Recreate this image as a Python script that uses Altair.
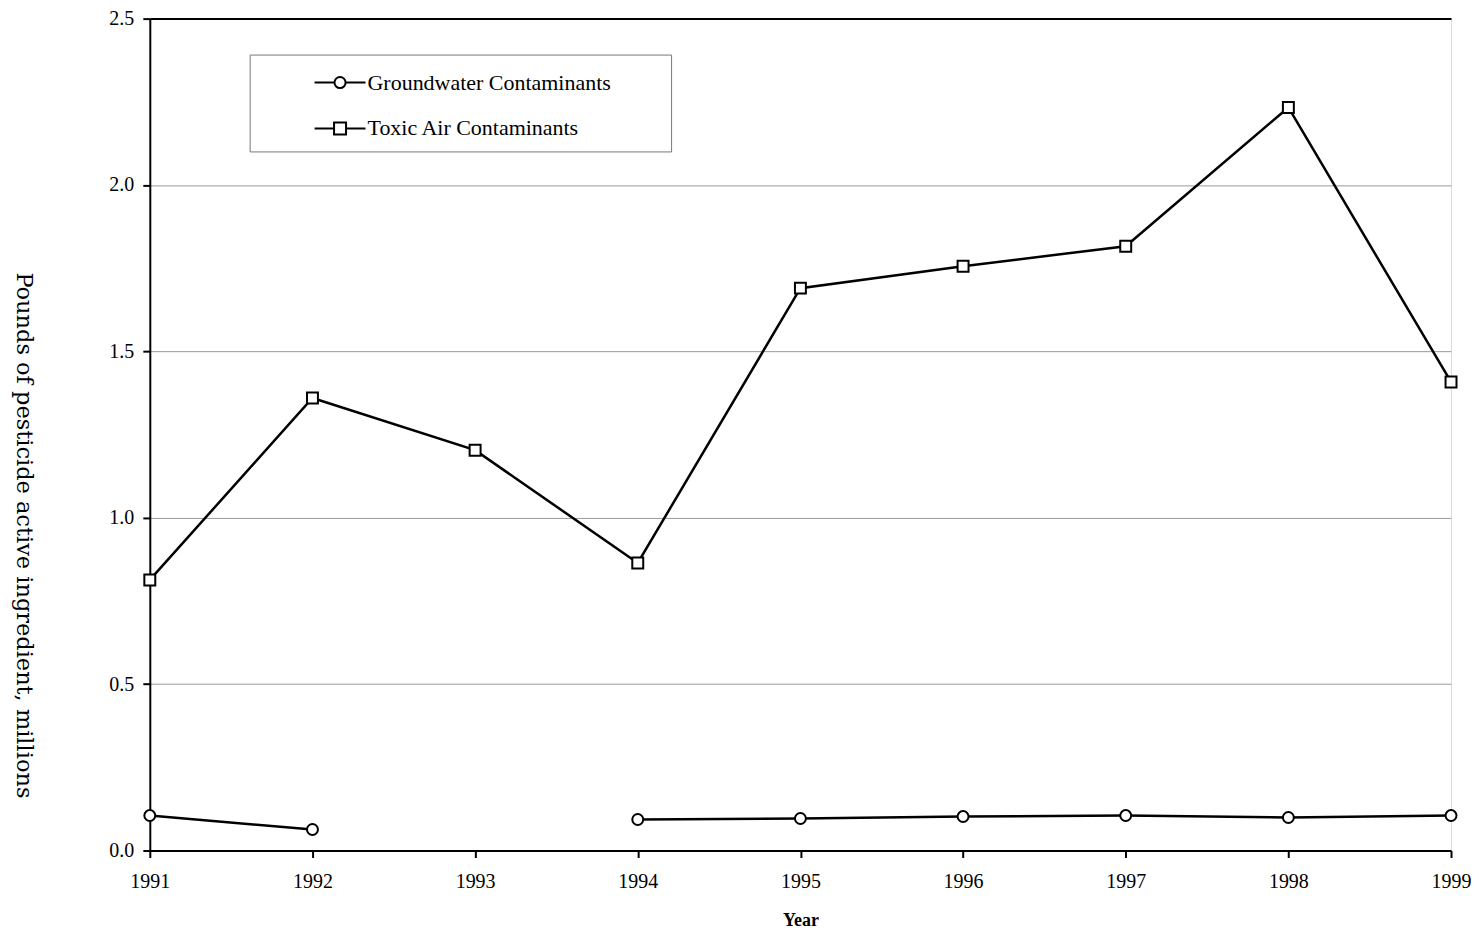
import altair as alt
import pandas as pd

years = [1991, 1992, 1993, 1994, 1995, 1996, 1997, 1998, 1999]
groundwater = [0.105, 0.063, None, 0.093, 0.096, 0.102, 0.105, 0.099, 0.105]
toxic_air = [0.813, 1.36, 1.203, 0.864, 1.69, 1.756, 1.816, 2.233, 1.408]
series_names = ["Groundwater Contaminants", "Toxic Air Contaminants"]
y_ticks = [0, 0.5, 1.0, 1.5, 2.0, 2.5]

rows = []
for name, vals in zip(series_names, [groundwater, toxic_air]):
    seg = 0
    for yr, v in zip(years, vals):
        if v is None:
            seg += 1
            continue
        rows.append({"year": yr, "value": v, "series": name, "segment": f"{name}-{seg}"})
df = pd.DataFrame(rows)

FONT = "Liberation Serif"

x = alt.X("year:Q", title="Year",
          scale=alt.Scale(domain=[1991, 1999], nice=False, zero=False),
          axis=alt.Axis(values=years, format="d", grid=False, labelFontSize=20,
                        labelFont=FONT, titleFont=FONT, titleFontSize=18,
                        titleFontWeight="bold", titlePadding=20, tickSize=7,
                        labelPadding=14, domainWidth=2, tickWidth=2,
                        domainColor="black", tickColor="black", labelColor="black",
                        titleColor="black", labelFlush=False))
y = alt.Y("value:Q", title="Pounds of pesticide active ingredient, millions",
          scale=alt.Scale(domain=[0, 2.5], nice=False),
          axis=alt.Axis(values=y_ticks, format=".1f", grid=True,
                        gridColor=alt.condition("datum.value >= 2.5", alt.value("black"), alt.value("#9a9a9a")),
                        gridWidth=alt.condition("datum.value >= 2.5", alt.value(2), alt.value(1)),
                        labelFontSize=20,
                        labelFont=FONT, titleFont="DejaVu Serif", titleFontSize=22.5,
                        titleFontWeight="normal", titleAngle=90, titlePadding=97,
                        titleY=517,
                        tickSize=7, labelPadding=9, domainWidth=2, tickWidth=2,
                        domainColor="black", tickColor="black", labelColor="black",
                        titleColor="black"))

base = alt.Chart(df)

lines = base.mark_line(color="black", strokeWidth=2.5).encode(x=x, y=y, detail="segment:N")

points = base.mark_point(filled=True, fill="white", stroke="black", strokeWidth=2,
                         size=120, opacity=1).encode(
    x=x, y=y,
    shape=alt.Shape("series:N", scale=alt.Scale(domain=series_names, range=["circle", "square"]),
                    legend=None))

# legend glyphs: line with marker; the trailing zero-length segment only widens the legend box
circle_path = ("M-1.7,0H-0.37M0.37,0H1.7M-0.37,0A0.37,0.37,0,1,0,0.37,0A0.37,0.37,0,1,0,-0.37,0Z"
               "M21.0,0L21.0,0")
square_path = "M-1.7,0H-0.4M0.4,0H1.7M-0.4,-0.4H0.4V0.4H-0.4ZM21.0,0L21.0,0"

legend_layer = base.transform_filter("false").mark_point(
    filled=False, color="black", strokeWidth=2).encode(
    x=x, y=y,
    shape=alt.Shape("series:N",
                    scale=alt.Scale(domain=series_names, range=[circle_path, square_path]),
                    legend=alt.Legend(title=None, orient="none", legendX=100, legendY=36,
                                      symbolSize=900, symbolStrokeWidth=2,
                                      symbolStrokeColor="black", symbolOpacity=1,
                                      labelFont=FONT, labelFontSize=22, labelColor="black",
                                      labelLimit=500, padding=12, rowPadding=19,
                                      symbolOffset=62.5, labelOffset=11.5,
                                      strokeColor="#777777", fillColor="white")))

chart = alt.layer(lines, points, legend_layer).resolve_scale(shape="independent").properties(
    width=1303, height=833,
    padding={"left": 142, "top": 10, "right": 20, "bottom": 78},
    autosize=alt.AutoSizeParams(type="none"),
).configure_view(stroke="black", strokeWidth=2).configure(background="white")

chart.save("out.html", embed_options={"renderer": "svg", "actions": False})
